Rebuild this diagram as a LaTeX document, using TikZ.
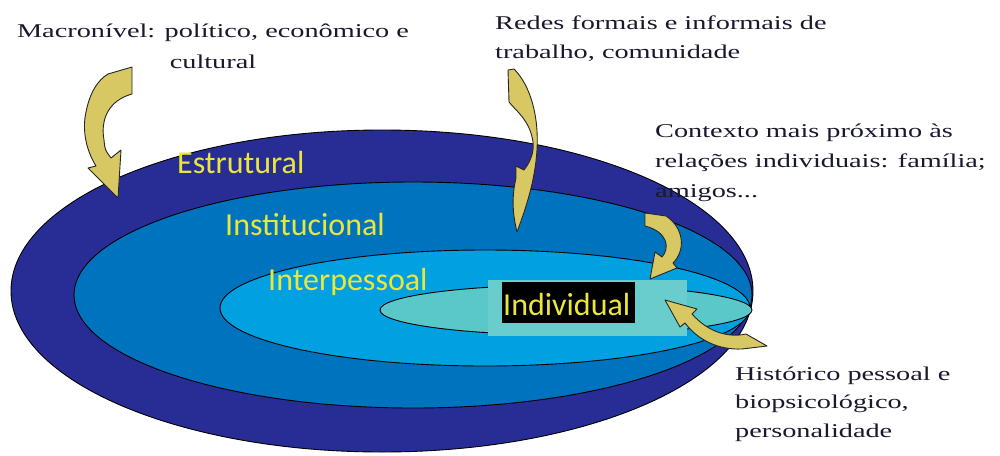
\documentclass[tikz,border=0pt]{standalone}
\usepackage{fontspec}
\setmainfont{Liberation Serif}
\newfontfamily\lblfont[FakeStretch=1.45]{Liberation Serif}
\newfontfamily\lvlfont{Carlito}
\definecolor{dkblue}{RGB}{40,45,150}
\definecolor{mdblue}{RGB}{0,115,190}
\definecolor{ltblue}{RGB}{0,160,225}
\definecolor{teal}{RGB}{90,200,200}
\definecolor{rectteal}{RGB}{105,205,205}
\definecolor{khaki}{RGB}{215,200,100}
\definecolor{lvlyellow}{RGB}{235,230,60}
\definecolor{txtdark}{RGB}{25,25,45}
\tikzset{
  ring/.style={draw=black, line width=0.9pt},
  blockarrow/.style={fill=khaki, draw=black!85, line width=0.9pt, line join=round},
  lvl/.style={font=\lvlfont\fontsize{32}{36}\selectfont, text=lvlyellow, inner sep=0pt, anchor=base west},
  lbl/.style={font=\lblfont\fontsize{19.5}{29}\selectfont, text=txtdark, inner sep=0pt},
}
\begin{document}
\begin{tikzpicture}[x=1pt,y=-1pt]
\useasboundingbox (0,0) rectangle (1000,455);
% nested ellipses
\fill[white] (0,0) rectangle (1000,455);
\draw[ring, fill=dkblue] (382,291) ellipse [x radius=371, y radius=161];
\draw[ring, fill=mdblue] (413,295) ellipse [x radius=339, y radius=113];
\draw[ring, fill=ltblue] (485,308) ellipse [x radius=265, y radius=58];
\draw[ring, fill=teal] (566,310) ellipse [x radius=186, y radius=25];
\fill[rectteal] (488,280) rectangle (687,336);
% level labels
\node[lvl] (estr) at (177,173) {Estrutural};
\node[lvl] (inst) at (225,235) {Institucional};
\node[lvl] (inter) at (268,290) {Interpessoal};
\node[fill=black, minimum width=133pt, minimum height=41pt, inner sep=0pt] (indbox) at (568.5,302.5) {};
\node[lvl] (ind) at (503,315) {Individual};
% arrows
\draw[blockarrow] (108,74) -- (132,67) -- (132,94)
  .. controls (110,100) and (100,118) .. (104,140)
  .. controls (105,150) .. (111,158) -- (121,150) -- (118,198) -- (88,168) -- (96,166)
  .. controls (86,150) and (82,130) .. (86,112)
  .. controls (90,92) and (98,80) .. (108,74) -- cycle;
\draw[blockarrow] (508,70) -- (514,69)
  .. controls (530,85) and (539,115) .. (537,150)
  .. controls (535,180) and (527,205) .. (517,232)
  .. controls (512,212) and (512,195) .. (516,178) -- (516,166) -- (524,170)
  .. controls (532,160) and (534,150) .. (533,142)
  .. controls (530,120) and (515,110) .. (509,102) -- cycle;
\draw[blockarrow] (645,213) -- (666,216)
  .. controls (684,228) and (686,250) .. (673,263) -- (677,268) -- (650,279) -- (655,252) -- (662,257)
  .. controls (670,248) and (668,232) .. (645,226) -- cycle;
\draw[blockarrow] (665,300) -- (697,309) -- (692,314)
  .. controls (708,332) and (728,338) .. (746,334) -- (767,346) -- (742,349)
  .. controls (718,350) and (698,340) .. (685,323) -- (680,327) -- cycle;
% texts
\node[lbl, anchor=base] (macro1) at (213,37) {Macronível: político, econômico e};
\node[lbl, anchor=base] (macro2) at (213,68) {cultural};
\node[lbl, anchor=base west] (redes1) at (495,29) {Redes formais e informais de};
\node[lbl, anchor=base west] (redes2) at (495,58) {trabalho, comunidade};
\node[lbl, anchor=base west] (cont1) at (655,137) {Contexto mais próximo às};
\node[lbl, anchor=base west] (cont2) at (655,167) {relações individuais: família;};
\node[lbl, anchor=base west] (cont3) at (655,197) {amigos...};
\node[lbl, anchor=base west] (hist1) at (735,380) {Histórico pessoal e};
\node[lbl, anchor=base west] (hist2) at (735,408) {biopsicológico,};
\node[lbl, anchor=base west] (hist3) at (735,437) {personalidade};
\end{tikzpicture}
\end{document}
